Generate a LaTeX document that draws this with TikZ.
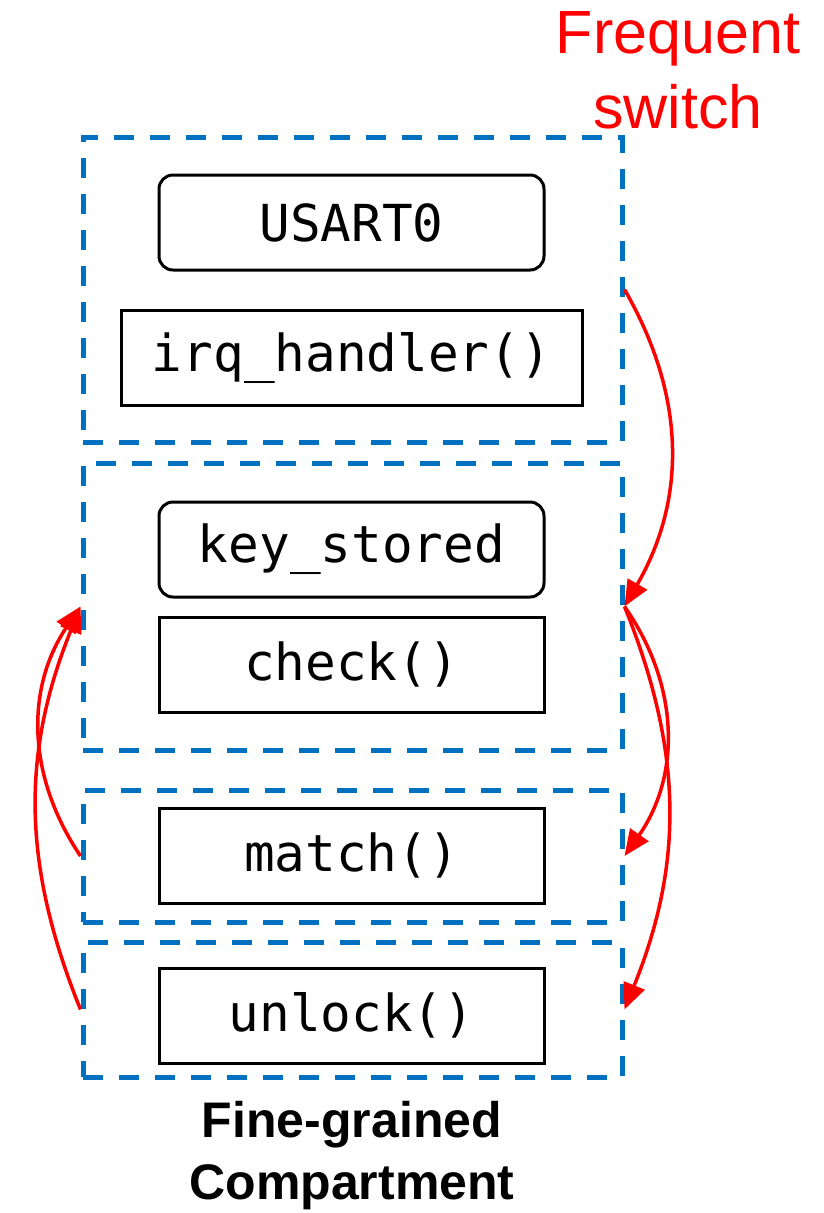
\documentclass[tikz,border=0pt]{standalone}
\usepackage{fontspec}
\setmainfont{Liberation Sans}
\newfontfamily\codefont{DejaVu Sans Mono}
\usetikzlibrary{arrows.meta}
\definecolor{compblue}{HTML}{0070C0}
\definecolor{switchred}{HTML}{FF0000}
\begin{document}
\begin{tikzpicture}[x=1pt,y=-1pt,
  comp/.style={draw=compblue, line width=5pt, dash pattern=on 20pt off 16pt, minimum width=539pt, inner sep=0pt},
  code/.style={draw=black, line width=3pt, minimum height=95pt, inner sep=0pt, font=\codefont\fontsize{51}{60}\selectfont},
  roundcode/.style={code, rounded corners=14pt},
  sw/.style={draw=switchred, line width=3.5pt, -{Triangle[length=26pt,width=22pt]}},
  lbl/.style={align=center, inner sep=0pt}]
\useasboundingbox (0,0) rectangle (824,1213);
% compartments
\node[comp, minimum height=305pt] (c1) at (352.5,289.5) {};
\node[comp, minimum height=287pt] (c2) at (352.5,606.5) {};
\node[comp, minimum height=132pt] (c3) at (352.5,856) {};
\node[comp, minimum height=135pt] (c4) at (352.5,1009.5) {};
% inner boxes
\node[roundcode, minimum width=385pt] (usart) at (351.5,222.5) {USART0};
\node[code, minimum width=461pt] (irq) at (351.5,357.5) {irq\_handler()};
\node[roundcode, minimum width=385pt] (key) at (351.5,549.5) {key\_stored};
\node[code, minimum width=385pt] (check) at (351.5,664.5) {check()};
\node[code, minimum width=385pt] (match) at (351.5,855.5) {match()};
\node[code, minimum width=385pt] (unlock) at (351.5,1015.5) {unlock()};
% labels
\node[lbl, text=switchred, font=\fontsize{61}{75}\selectfont] (fs) at (678,70) {Frequent\\switch};
\node[lbl, font=\bfseries\fontsize{50}{62}\selectfont] (fg) at (352,1156) {Fine-grained\\Compartment};
% switch arrows
\draw[sw] (c1.east) to[bend left=30] (c2.east);
\draw[sw] (c2.east) to[bend left=35] (c3.east);
\draw[sw] (c2.east) to[bend left=22] (c4.east);
\draw[sw] (c3.west) to[bend left=34] (c2.west);
\draw[sw] (c4.west) to[bend left=22] (c2.west);
\end{tikzpicture}
\end{document}
